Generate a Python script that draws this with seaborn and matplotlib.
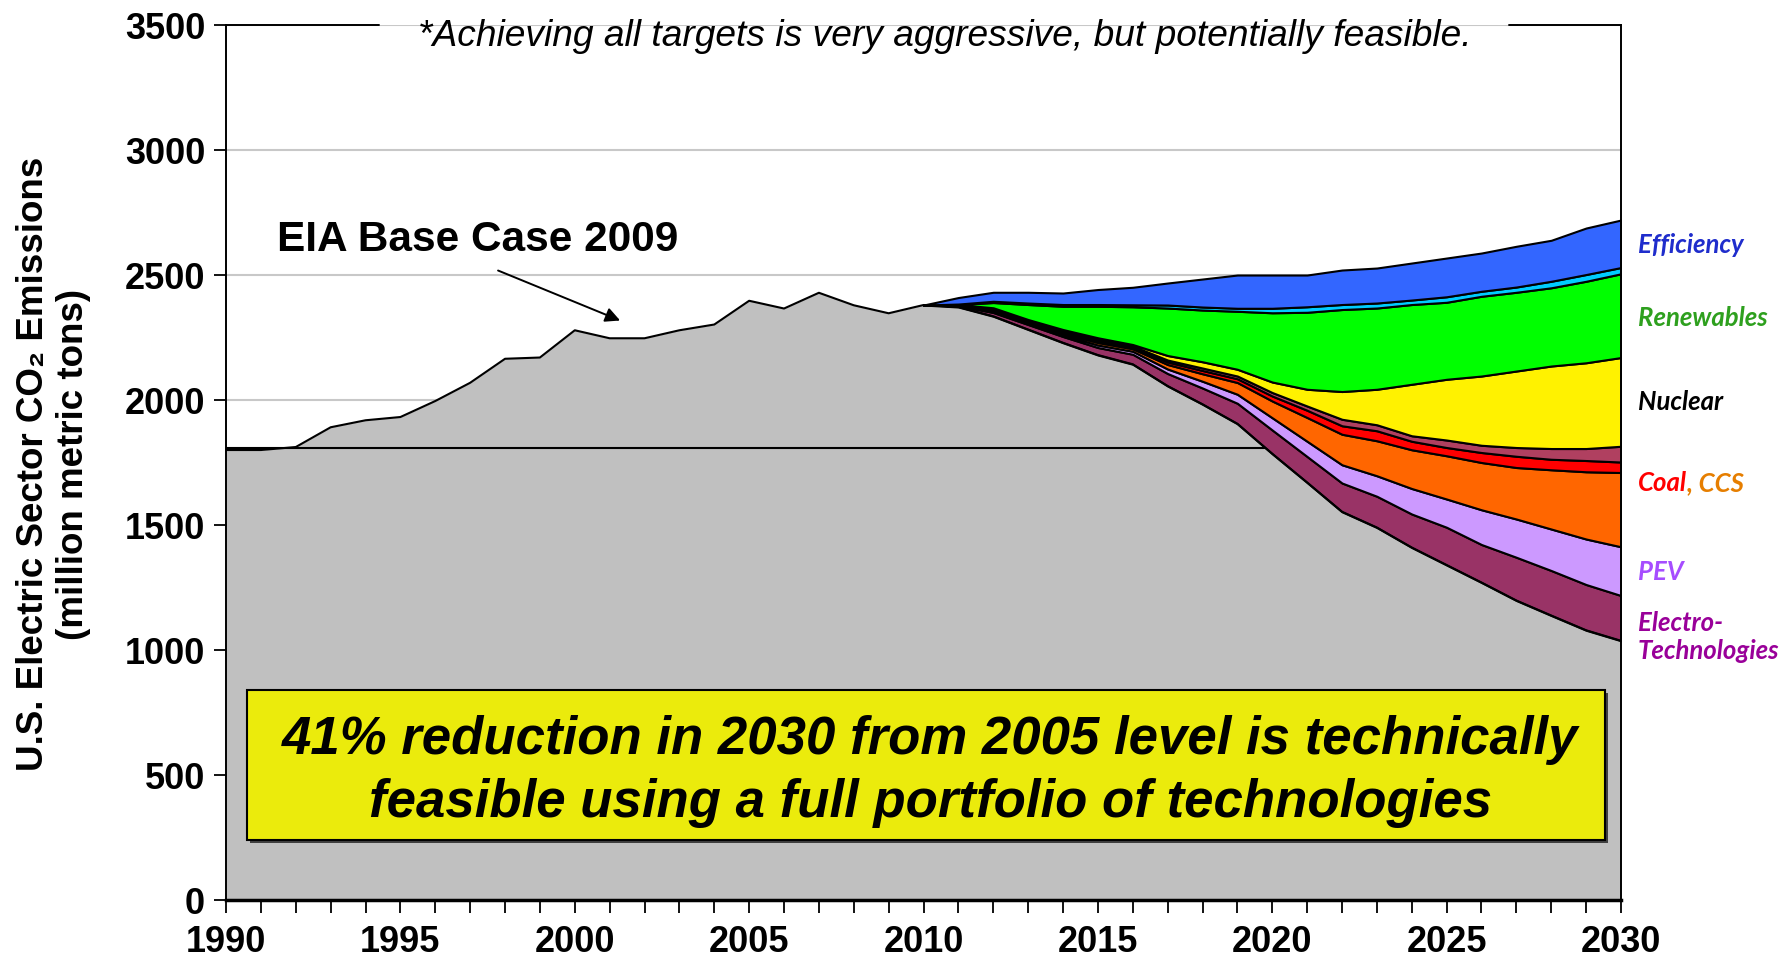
import numpy as np
import matplotlib
matplotlib.use('Agg')
import matplotlib.pyplot as plt
import seaborn as sns
from matplotlib.patches import Rectangle

# historical / EIA base case (grey area up to 2009)
hist_years = list(range(1990, 2010))
hist_co2 = [1800, 1800, 1812, 1891, 1919, 1932, 1996, 2069, 2165, 2170,
            2279, 2247, 2247, 2279, 2302, 2397, 2366, 2429, 2379, 2347]

# projection years and remaining emissions with all technologies
proj_years = list(range(2010, 2031))
remaining = [2380, 2372, 2335, 2282, 2229, 2180, 2143, 2056, 1983, 1905, 1785,
             1670, 1553, 1490, 1410, 1340, 1270, 1198, 1138, 1079, 1037]

# reductions by technology (stacked from the bottom up)
electro = [0, 5, 15, 20, 25, 30, 40, 50, 65, 82, 95, 104, 115, 125, 134, 151, 152, 173, 180, 183, 181]
pev = [0, 1, 4, 5, 7, 10, 12, 18, 27, 36, 49, 61, 73, 82, 102, 113, 139, 153, 166, 182, 195]
ccs = [0, 1, 4, 5, 7, 10, 10, 18, 30, 47, 67, 95, 122, 140, 155, 173, 189, 206, 237, 269, 297]
coal = [0, 1, 4, 4, 6, 8, 7, 10, 13, 15, 20, 29, 34, 40, 34, 33, 40, 45, 42, 45, 42]
coal_fleet = [0, 1, 3, 3, 4, 5, 4, 8, 10, 11, 14, 17, 26, 24, 22, 30, 29, 35, 43, 48, 63]
nuclear = [0, 1, 4, 3, 4, 6, 6, 18, 25, 27, 42, 67, 111, 142, 206, 243, 277, 306, 330, 343, 355]
renewables = [0, 0, 21, 60, 93, 126, 151, 190, 207, 232, 277, 308, 328, 325, 319, 308, 319, 315, 313, 326, 335]
t_and_d = [0, 2, 5, 6, 7, 7, 8, 12, 12, 12, 18, 22, 20, 20, 18, 22, 20, 21, 26, 27, 25]
efficiency = [0, 26, 36, 43, 46, 60, 70, 88, 112, 133, 133, 127, 138, 140, 148, 155, 153, 163, 164, 186, 190]

layers = [electro, pev, ccs, coal, coal_fleet, nuclear, renewables, t_and_d, efficiency]
layer_colors = ['#993366', '#CC99FF', '#FF6600', '#FF0000', '#B04060',
                '#FFF200', '#00FF00', '#00CCFF', '#3366FF']

level_1990 = 1810

labels = ['Efficiency', 'Renewables', 'Nuclear', 'Coal', 'PEV', 'Electro-\nTechnologies']
label_colors = ['#1F2DCC', '#2EA01E', '#000000', '#FF0000', '#A64DFF', '#990099']
label_y = [0.749, 0.665, 0.569, 0.477, 0.375, 0.301]

sns.set_theme(style='white')
plt.rcParams['font.family'] = ['Liberation Sans', 'DejaVu Sans']

fig = plt.figure(figsize=(17.87, 9.66), dpi=100)
ax = fig.add_axes([0.1265, 0.0683, 0.7806, 0.9058])

years_all = hist_years + proj_years
base_all = hist_co2 + remaining
ax.fill_between(years_all, 0, base_all, color='#C0C0C0', lw=0, zorder=1)
ax.plot([1990, 2030], [level_1990, level_1990], color='black', lw=1.5, zorder=1.5)
sns.lineplot(x=years_all, y=base_all, color='black', lw=1.5, ax=ax, zorder=3)

bottom = np.array(remaining, dtype=float)
for vals, col in zip(layers, layer_colors):
    top = bottom + np.array(vals, dtype=float)
    ax.fill_between(proj_years, bottom, top, facecolor=col, edgecolor='black',
                    lw=1.5, zorder=2)
    bottom = top

ax.set_xlim(1990, 2030)
ax.set_ylim(0, 3500)
ax.set_xticks(range(1990, 2031, 5))
ax.set_xticks(range(1990, 2031), minor=True)
ax.set_yticks(range(0, 3501, 500))
ax.yaxis.grid(True, color='#C8C8C8', lw=1.5, zorder=0)
ax.set_axisbelow(True)
ax.tick_params(which='both', direction='out', bottom=True, left=True,
               length=9, width=1.3, color='black')
ax.tick_params(axis='x', pad=9)
ax.tick_params(axis='y', pad=6)
for lab in ax.get_xticklabels() + ax.get_yticklabels():
    lab.set_fontsize(26)
    lab.set_fontweight('bold')
    lab.set_color('black')

for s in ['left', 'right', 'bottom']:
    ax.spines[s].set_color('black')
    ax.spines[s].set_linewidth(1.4)
    ax.spines[s].set_zorder(6)
ax.spines['bottom'].set_linewidth(2.5)
ax.spines['top'].set_visible(False)
# top border, broken where the note sits
ax.plot([0, 0.110], [1, 1], transform=ax.transAxes, color='black', lw=1.4, clip_on=False)
ax.plot([0.920, 1], [1, 1], transform=ax.transAxes, color='black', lw=1.4, clip_on=False)

ax.set_xlabel('')
ax.set_ylabel('U.S. Electric Sector CO\u2082 Emissions\n(million metric tons)',
              fontsize=26.5, fontweight='bold', color='black')
ax.yaxis.set_label_coords(-0.0965, 0.498)

fig.text(0.5288, 0.9627, '*Achieving all targets is very aggressive, but potentially feasible.',
         fontsize=26.7, style='italic', ha='center', va='center', color='black')

ax.text(1997.22, 2640, 'EIA Base Case 2009', fontsize=30.5, fontweight='bold',
        ha='center', va='center', color='black', zorder=7)
ax.annotate('', xy=(2001.3, 2318), xytext=(1997.8, 2518),
            arrowprops=dict(arrowstyle='-|>', color='black', lw=1.4,
                            mutation_scale=22, shrinkA=0, shrinkB=0), zorder=7)

# yellow call-out box
ax.add_patch(Rectangle((0.0172, 0.0655), 0.9735, 0.1715, transform=ax.transAxes,
                       facecolor='#404040', edgecolor='none', zorder=4))
ax.add_patch(Rectangle((0.0151, 0.0686), 0.9734, 0.1714, transform=ax.transAxes,
                       facecolor='#EBEB0C', edgecolor='black', lw=1.5, zorder=5))
ax.text(0.5047, 0.147, '41% reduction in 2030 from 2005 level is technically\nfeasible using a full portfolio of technologies',
        transform=ax.transAxes, fontsize=38, fontweight='bold', style='italic',
        ha='center', va='center', linespacing=1.34, color='black', zorder=6)

# right-hand technology labels
for txt, col, yy in zip(labels, label_colors, label_y):
    t = ax.text(1.012, yy, txt, transform=ax.transAxes, fontsize=18.5,
                fontweight='bold', style='italic', color=col, ha='left',
                va='center', family=['Lato', 'DejaVu Sans'], linespacing=1.2)
    if txt == 'Coal':
        ax.annotate(', CCS', xy=(1, 0), xycoords=t, va='bottom', ha='left',
                    fontsize=18.5, fontweight='bold', style='italic',
                    color='#E67E00', family=['Lato', 'DejaVu Sans'])

fig.savefig('out.png', dpi=100)
